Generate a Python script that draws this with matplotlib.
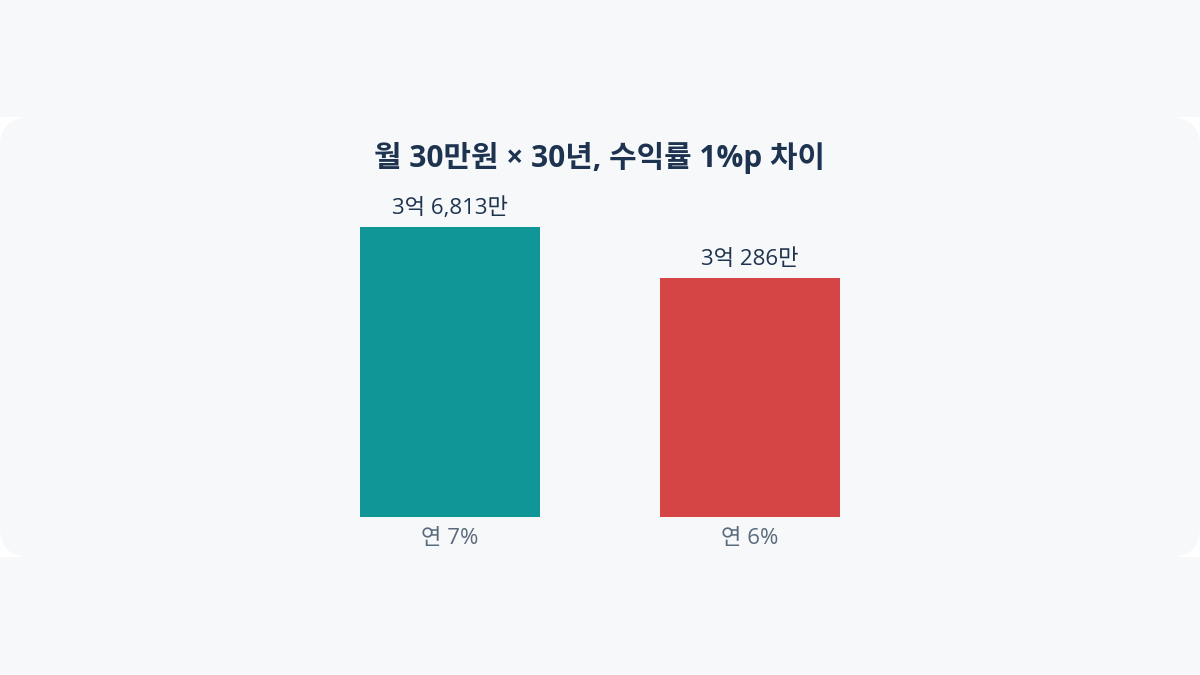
import matplotlib
matplotlib.use("Agg")
import matplotlib.pyplot as plt
from matplotlib.patches import FancyBboxPatch, Rectangle

plt.rcParams['font.family'] = ['Open Sans', 'Noto Sans CJK KR', 'DejaVu Sans']

categories = ["연 7%", "연 6%"]
values = [36813, 30286]  # 만원
value_labels = ["3억 6,813만", "3억 286만"]
colors = ["#109696", "#d64545"]
title = "월 30만원 × 30년, 수익률 1%p 차이"

W, H = 1200, 675
fig = plt.figure(figsize=(12, 6.75), dpi=100)
fig.patch.set_facecolor("#f7f8fa")

# card band
fig.patches.append(Rectangle((0, 1 - 557 / H), 1, (557 - 117) / H, transform=fig.transFigure,
                             facecolor="white", edgecolor="none", zorder=-3))
fig.patches.append(FancyBboxPatch((0, 1 - 557 / H), 1, (557 - 117) / H,
                                  boxstyle="round,pad=0,rounding_size=0.025",
                                  mutation_aspect=W / H,
                                  transform=fig.transFigure,
                                  facecolor="#f7f8fa", edgecolor="none", zorder=-2))

ax = fig.add_axes([300 / W, 1 - 517 / H, 600 / W, (517 - 227) / H])
ax.set_zorder(2)
ax.set_facecolor("none")
x = list(range(len(categories)))
bars = ax.bar(x, values, width=0.6, color=colors)
ax.set_xlim(-0.5, 1.5)
ax.set_ylim(0, max(values))
for s in ax.spines.values():
    s.set_visible(False)
ax.set_yticks([])
ax.set_xticks(x)
ax.set_xticklabels(categories, fontsize=16, color="#5a6b7d")
ax.tick_params(axis="x", length=0, pad=8)

for xi, v, lab in zip(x, values, value_labels):
    ax.annotate(lab, (xi, v), xytext=(0, 6), textcoords="offset points",
                ha="center", va="bottom", fontsize=16, color="#1e3350",
                annotation_clip=False)

fig.text(0.5, 1 - 158 / H, title, ha="center", va="center",
         fontsize=21.5, fontweight="bold", color="#1e3350", zorder=3)

fig.savefig("out.png", dpi=100, facecolor=fig.get_facecolor())
